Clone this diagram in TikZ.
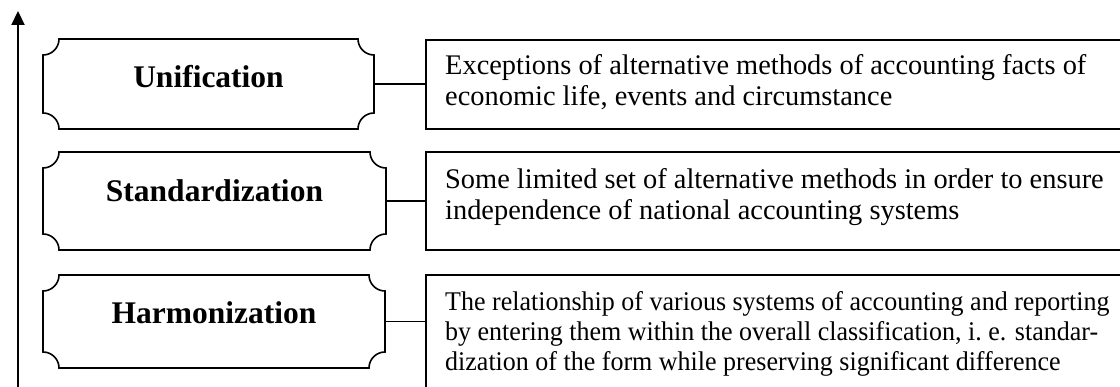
\documentclass[tikz,border=0pt]{standalone}
\usepackage{fontspec}
\setmainfont{Liberation Serif}
\usetikzlibrary{arrows.meta}

% slightly narrowed face for the longest description
\newfontfamily\narrowserif[FakeStretch=0.963]{Liberation Serif}
% raise a label inside its node without changing the node's size
\newcommand\stagelift[2]{\raisebox{#1}[\height][\depth]{#2}}
% radius of the concave corners of the stage frames
\newcommand\notchr{16pt}
% frame with concave (notched) corners around a named node
\newcommand\notchframe[1]{%
  \draw[frame] ([xshift=\notchr]#1.north west) -- ([xshift=-\notchr]#1.north east)
    arc[start angle=180, end angle=270, radius=\notchr]
    -- ([yshift=\notchr]#1.south east)
    arc[start angle=90, end angle=180, radius=\notchr]
    -- ([xshift=\notchr]#1.south west)
    arc[start angle=0, end angle=90, radius=\notchr]
    -- ([yshift=-\notchr]#1.north west)
    arc[start angle=270, end angle=360, radius=\notchr] -- cycle;}

\begin{document}
\begin{tikzpicture}[x=1pt, y=-1pt,
  frame/.style={line width=1.6pt, line join=miter},
  stage/.style={inner sep=0pt, outer sep=0pt,
    font=\fontsize{31.5}{36}\selectfont\bfseries},
  infobox/.style={draw, line width=1.5pt, inner sep=0pt, outer sep=0pt,
    anchor=north west},
  info/.style={inner sep=0pt, anchor=north west, align=left,
    font=\fontsize{28.4}{30.5}\selectfont},
  infosmall/.style={info, font=\narrowserif\fontsize{27}{30}\selectfont},
  link/.style={line width=1.3pt},
  axis/.style={line width=2.2pt, -{Triangle[length=14pt, width=13pt]}}]

\useasboundingbox (0,0) rectangle (1120,387);
\clip (0,0) rectangle (1120,387);

% vertical axis
\coordinate (axisfoot) at (18,400);
\coordinate (axistop) at (18,11);
\draw[axis] (axisfoot) -- (axistop);

% stages
\node[stage, minimum width=331pt, minimum height=90pt] (uni) at (208.5,84)
  {\stagelift{7pt}{Unification}};
\node[stage, minimum width=343pt, minimum height=98pt] (std) at (214.5,201)
  {\stagelift{10pt}{Standardization}};
\node[stage, minimum width=342pt, minimum height=93pt] (harm) at (214,321.5)
  {\stagelift{9pt}{Harmonization}};
\notchframe{uni}
\notchframe{std}
\notchframe{harm}

% description boxes
\node[infobox, minimum width=720pt, minimum height=89pt] (unibox) at (426,40) {};
\node[infobox, minimum width=720pt, minimum height=98pt] (stdbox) at (426,152) {};
\node[infobox, minimum width=720pt, minimum height=150pt] (harmbox) at (426,275) {};

\node[info] (unitxt) at (445,54.6)
  {Exceptions of alternative methods of accounting facts of\\
   economic life, events and circumstance};
\node[info] (stdtxt) at (445,168.6)
  {Some limited set of alternative methods in order to ensure\\
   independence of national accounting systems};
\node[infosmall] (harmtxt) at (445,291.6)
  {The relationship of various systems of accounting and reporting\\
   by entering them within the overall classification, i.\ e. standar-\\
   dization of the form while preserving significant difference};

% connectors
\draw[link] (uni.east) -- (uni.east -| unibox.west);
\draw[link] (std.east) -- (std.east -| stdbox.west);
\draw[link] (harm.east) -- (harm.east -| harmbox.west);
\end{tikzpicture}
\end{document}
